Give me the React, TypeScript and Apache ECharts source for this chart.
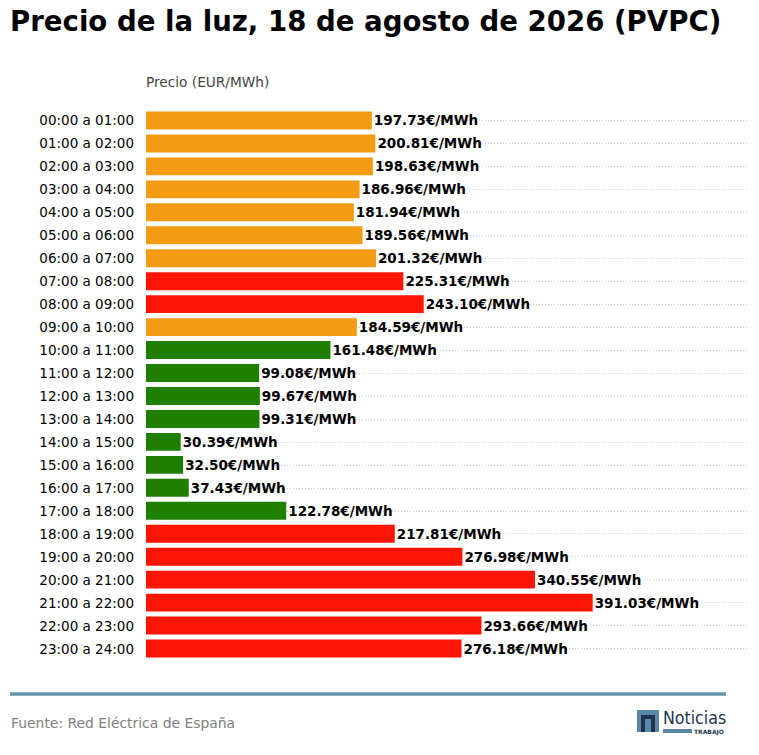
import { useEffect, useRef } from "react";
import * as echarts from "echarts";

const hours = [
  "00:00 a 01:00", "01:00 a 02:00", "02:00 a 03:00", "03:00 a 04:00",
  "04:00 a 05:00", "05:00 a 06:00", "06:00 a 07:00", "07:00 a 08:00",
  "08:00 a 09:00", "09:00 a 10:00", "10:00 a 11:00", "11:00 a 12:00",
  "12:00 a 13:00", "13:00 a 14:00", "14:00 a 15:00", "15:00 a 16:00",
  "16:00 a 17:00", "17:00 a 18:00", "18:00 a 19:00", "19:00 a 20:00",
  "20:00 a 21:00", "21:00 a 22:00", "22:00 a 23:00", "23:00 a 24:00",
];

const prices = [
  197.73, 200.81, 198.63, 186.96, 181.94, 189.56, 201.32, 225.31,
  243.1, 184.59, 161.48, 99.08, 99.67, 99.31, 30.39, 32.5,
  37.43, 122.78, 217.81, 276.98, 340.55, 391.03, 293.66, 276.18,
];

// precio bajo / medio / alto
const levelColors = ["#1f7f00", "#f39c13", "#ff1505"];
const levelLimits = [170, 210];

const colorFor = (v: number) =>
  v < levelLimits[0] ? levelColors[0] : v < levelLimits[1] ? levelColors[1] : levelColors[2];

const App = () => {
  const chartRef = useRef<HTMLDivElement>(null);

  useEffect(() => {
    document.body.style.margin = "0";
    if (!chartRef.current) return;
    const chart = echarts.init(chartRef.current, null, { renderer: "svg" });
    const navy = "#1e3550";
    const steel = "#5b87a6";

    chart.setOption({
      animation: false,
      grid: { left: 146, top: 109, width: 602, height: 551, containLabel: false },
      xAxis: {
        type: "value",
        min: 0,
        max: 527,
        show: false,
        splitLine: { show: false },
      },
      yAxis: {
        type: "category",
        data: hours,
        inverse: true,
        axisLine: { show: false },
        axisTick: { show: false },
        axisLabel: {
          margin: 12,
          color: "#000",
          fontSize: 13.5,
          fontFamily: "DejaVu Sans",
        },
        splitLine: {
          show: true,
          alignWithLabel: true,
          lineStyle: { color: "#c8c8c8", type: [1, 2], width: 1 },
        },
      },
      series: [
        {
          type: "bar",
          barWidth: "78%",
          data: prices.map((v) => ({ value: v, itemStyle: { color: colorFor(v) } })),
          label: {
            show: true,
            position: "right",
            distance: 2,
            color: "#000",
            fontWeight: "bold",
            fontSize: 13.5,
            fontFamily: "DejaVu Sans",
            formatter: (p: any) => `${Number(p.value).toFixed(2)}€/MWh`,
          },
        },
      ],
      graphic: [
        {
          type: "text",
          left: 10,
          top: 7,
          style: {
            text: "Precio de la luz, 18 de agosto de 2026 (PVPC)",
            font: "bold 27.6px 'DejaVu Sans'",
            fill: "#000",
          },
        },
        {
          type: "text",
          x: 146,
          y: 82,
          style: {
            text: "Precio (EUR/MWh)",
            font: "13.7px 'DejaVu Sans'",
            fill: "#444",
            textVerticalAlign: "middle",
          },
        },
        {
          type: "line",
          shape: { x1: 10, y1: 694, x2: 726, y2: 694 },
          style: { stroke: "#6596ae", lineWidth: 3.5 },
        },
        {
          type: "text",
          x: 11,
          y: 723,
          style: {
            text: "Fuente: Red Eléctrica de España",
            font: "13.9px 'DejaVu Sans'",
            fill: "#808080",
            textVerticalAlign: "middle",
          },
        },
        { type: "rect", shape: { x: 637, y: 710, width: 22, height: 22 }, style: { fill: steel } },
        { type: "rect", shape: { x: 641, y: 715, width: 4, height: 17 }, style: { fill: navy } },
        { type: "rect", shape: { x: 641, y: 715, width: 14, height: 4, r: [2, 2, 0, 0] }, style: { fill: navy } },
        { type: "rect", shape: { x: 651, y: 715, width: 4, height: 17 }, style: { fill: navy } },
        {
          type: "text",
          x: 663,
          y: 718,
          style: {
            text: "Noticias",
            font: "17.6px 'DejaVu Sans Condensed'",
            fill: navy,
            textVerticalAlign: "middle",
          },
        },
        { type: "rect", shape: { x: 663, y: 729, width: 29, height: 4 }, style: { fill: steel } },
        {
          type: "text",
          x: 694,
          y: 731.5,
          style: {
            text: "TRABAJO",
            font: "bold 6px 'DejaVu Sans'",
            fill: navy,
            textVerticalAlign: "middle",
          },
        },
      ],
    });

    return () => {
      chart.dispose();
    };
  }, []);

  return <div ref={chartRef} style={{ width: "759px", height: "755px" }}></div>;
};

export default App;
